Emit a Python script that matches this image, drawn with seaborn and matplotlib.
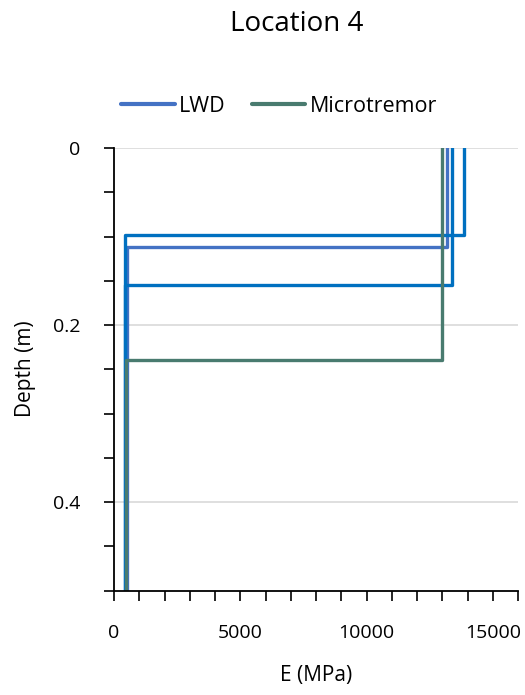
import matplotlib
matplotlib.use("Agg")
import matplotlib.pyplot as plt
from matplotlib.ticker import MultipleLocator
import seaborn as sns
import pandas as pd

# Layer data: depth boundaries (m) and modulus E (MPa) per layer
lwd_depths = [0.0, 0.112, 0.5]
lwd_E = [13200, 520]
seriesA_depths = [0.0, 0.098, 0.5]
seriesA_E = [13850, 440]
seriesB_depths = [0.0, 0.155, 0.5]
seriesB_E = [13400, 440]
micro_depths = [0.0, 0.24, 0.5]
micro_E = [13000, 480]

title = "Location 4"
x_label = "E (MPa)"
y_label = "Depth (m)"


def step_frame(depths, values):
    xs, ys = [], []
    for i, v in enumerate(values):
        xs += [v, v]
        ys += [depths[i], depths[i + 1]]
    return pd.DataFrame({"E": xs, "Depth": ys})


sns.set_style("white")
plt.rcParams["font.family"] = ["Open Sans", "DejaVu Sans"]
plt.rcParams["text.color"] = "black"
plt.rcParams["xtick.labelcolor"] = "black"
plt.rcParams["ytick.labelcolor"] = "black"

fig = plt.figure(figsize=(5.25, 6.95), dpi=100)
ax = fig.add_axes([114 / 525, 1 - 590.5 / 695, (518 - 114) / 525, (590.5 - 148) / 695])

series = [
    (lwd_depths, lwd_E, "#4472C4", "LWD"),
    (seriesA_depths, seriesA_E, "#0070C0", None),
    (seriesB_depths, seriesB_E, "#0070C0", None),
    (micro_depths, micro_E, "#497B6F", "Microtremor"),
]
handles = []
for d, v, c, lab in series:
    df = step_frame(d, v)
    sns.lineplot(data=df, x="E", y="Depth", sort=False, estimator=None,
                 color=c, lw=2.4, ax=ax, legend=False)
    if lab:
        handles.append((ax.lines[-1], lab))

ax.set_xlim(0, 16000)
ax.set_ylim(0.5, 0.0)
ax.xaxis.set_major_locator(MultipleLocator(5000))
ax.xaxis.set_minor_locator(MultipleLocator(1000))
ax.yaxis.set_major_locator(MultipleLocator(0.2))
ax.yaxis.set_minor_locator(MultipleLocator(0.05))
ax.yaxis.set_major_formatter(plt.FuncFormatter(lambda v, p: "0" if v == 0 else f"{v:g}"))

ax.grid(axis="y", which="major", color="#D9D9D9", lw=1.2)
ax.grid(axis="x", visible=False)
for s in ["top", "right"]:
    ax.spines[s].set_visible(False)
for s in ["left", "bottom"]:
    ax.spines[s].set_color("black")
    ax.spines[s].set_linewidth(1.3)

ax.tick_params(axis="both", which="both", direction="out", color="black",
               width=1.2, length=7, labelsize=14, left=True, bottom=True)
ax.tick_params(axis="y", which="major", pad=17)
ax.tick_params(axis="x", which="major", pad=17)
ax.set_xlabel("")
ax.set_ylabel("")

fig.text(297 / 525, 1 - 24 / 695, title, ha="center", va="center", fontsize=20)
fig.text(316 / 525, 1 - 676 / 695, x_label, ha="center", va="center", fontsize=15)
fig.text(25 / 525, 1 - 369 / 695, y_label, ha="center", va="center",
         rotation=90, fontsize=15)

leg = fig.legend([h for h, _ in handles], [l for _, l in handles],
                 loc="center", bbox_to_anchor=(279 / 525, 1 - 106 / 695),
                 ncol=2, frameon=False, fontsize=15.5, handlelength=2.5,
                 handletextpad=0.2, columnspacing=1.2, borderpad=0,
                 borderaxespad=0)
for line in leg.get_lines():
    line.set_linewidth(3)

fig.savefig("out.png", dpi=100)
